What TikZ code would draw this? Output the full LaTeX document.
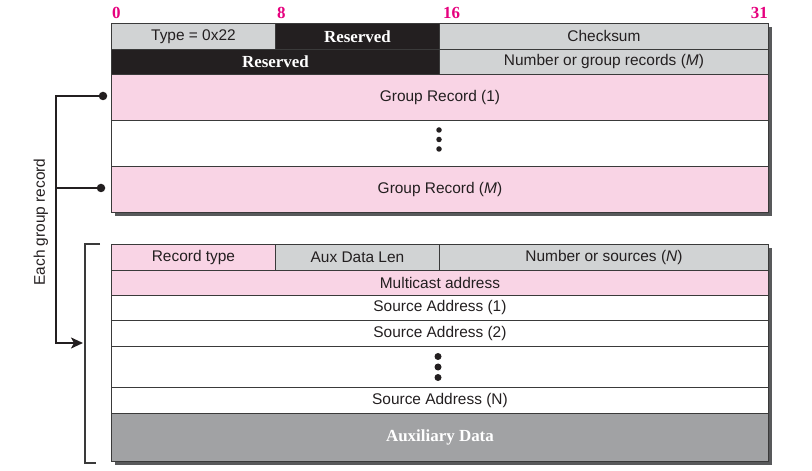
\documentclass[tikz,border=0pt]{standalone}
\usepackage{fontspec}
\setmainfont{Liberation Serif}
\setsansfont{Liberation Sans}
\usetikzlibrary{arrows.meta}
\definecolor{grayc}{HTML}{D1D3D4}
\definecolor{pinkc}{HTML}{F9D4E5}
\definecolor{blackc}{HTML}{231F20}
\definecolor{auxc}{HTML}{A1A2A4}
\definecolor{magc}{HTML}{E6007E}
\definecolor{shadowc}{HTML}{58595B}
\definecolor{linec}{HTML}{3A3A3A}
\definecolor{textc}{HTML}{231F20}
\begin{document}
\begin{tikzpicture}[x=1bp,y=-1bp,
  cell/.style={draw=linec, line width=0.9bp, inner sep=0pt, anchor=north west,
    font=\sffamily\fontsize{15.5}{17}\selectfont, text=textc},
  boldcell/.style={cell, font=\bfseries\fontsize{17}{19}\selectfont, text=white},
  bitlbl/.style={inner sep=0pt, font=\bfseries\fontsize{17}{19}\selectfont, text=magc},
  smalldot/.style={circle, fill=blackc, inner sep=0pt, minimum size=5.5bp},
  bigdot/.style={circle, fill=blackc, inner sep=0pt, minimum size=7bp},
  pindot/.style={circle, fill=blackc, inner sep=0pt, minimum size=8.5bp},
  conn/.style={draw=blackc, line width=1.8bp},
  bracketline/.style={draw=linec, line width=1.1bp},
  shadow/.style={fill=shadowc}]
\useasboundingbox (0,0) rectangle (812,471);

% bit labels
\node[bitlbl, anchor=west] (b0) at (112,13) {0};
\node[bitlbl, anchor=west] (b8) at (277,13) {8};
\node[bitlbl, anchor=west] (b16) at (443,13) {16};
\node[bitlbl, anchor=east] (b31) at (768,13) {31};

% top table
\fill[shadow] (115,27) rectangle (772,216);
\node[cell, fill=grayc, minimum width=164bp, minimum height=26bp] (type) at (111,23) {Type = 0x22};
\node[boldcell, fill=blackc, minimum width=164bp, minimum height=26bp] (res1) at (275,23) {Reserved};
\node[cell, fill=grayc, minimum width=329bp, minimum height=26bp] (cks) at (439,23) {Checksum};
\node[boldcell, fill=blackc, minimum width=328bp, minimum height=25bp] (res2) at (111,49) {Reserved};
\node[cell, fill=grayc, minimum width=329bp, minimum height=25bp] (ngr) at (439,49) {Number or group records (\textit{M})};
\node[cell, fill=pinkc, minimum width=657bp, minimum height=46bp] (gr1) at (111,74) {Group Record (1)};
\node[cell, fill=white, minimum width=657bp, minimum height=46bp] (grdots) at (111,120) {};
\node[cell, fill=pinkc, minimum width=657bp, minimum height=46bp] (grm) at (111,166) {Group Record (\textit{M})};
\node[smalldot] (gd1) at (439,130) {};
\node[smalldot] (gd2) at (439,139.5) {};
\node[smalldot] (gd3) at (439,149) {};

% bottom table
\fill[shadow] (115,248) rectangle (772,465);
\node[cell, fill=pinkc, minimum width=164bp, minimum height=26bp] (rt) at (111,244) {Record type};
\node[cell, fill=grayc, minimum width=164bp, minimum height=26bp] (adl) at (275,244) {Aux Data Len};
\node[cell, fill=grayc, minimum width=329bp, minimum height=26bp] (nos) at (439,244) {Number or sources (\textit{N})};
\node[cell, fill=pinkc, minimum width=657bp, minimum height=25bp] (mca) at (111,270) {Multicast address};
\node[cell, fill=white, minimum width=657bp, minimum height=25bp] (sa1) at (111,295) {Source Address (1)};
\node[cell, fill=white, minimum width=657bp, minimum height=26bp] (sa2) at (111,320) {Source Address (2)};
\node[cell, fill=white, minimum width=657bp, minimum height=41bp] (sadots) at (111,346) {};
\node[cell, fill=white, minimum width=657bp, minimum height=26bp] (san) at (111,387) {Source Address (N)};
\node[boldcell, fill=auxc, minimum width=657bp, minimum height=48bp] (aux) at (111,413) {Auxiliary Data};
\node[bigdot] (sd1) at (438,356.5) {};
\node[bigdot] (sd2) at (438,367) {};
\node[bigdot] (sd3) at (438,377.5) {};

% bracket around group record
\coordinate (bt1) at (100,244);
\coordinate (bt2) at (85,244);
\coordinate (bb2) at (85,463);
\coordinate (bb1) at (96,463);
\draw[bracketline] (bt1) -- (bt2) -- (bb2) -- (bb1);

% connectors
\node[pindot] (p1) at (103,96) {};
\node[pindot] (p2) at (101,188) {};
\coordinate (c1) at (56,96);
\coordinate (c2) at (56,188);
\coordinate (c3) at (56,343);
\coordinate (tip) at (83,343);
\draw[conn, -{Stealth[length=12bp, width=11bp, inset=3bp]}] (p1.center) -- (c1) -- (c3) -- (tip);
\draw[conn] (p2.center) -- (c2);
\node[rotate=90, inner sep=0pt, font=\sffamily\fontsize{15.5}{17}\selectfont, text=textc] (lbl) at (41,222) {Each group record};
\end{tikzpicture}
\end{document}
